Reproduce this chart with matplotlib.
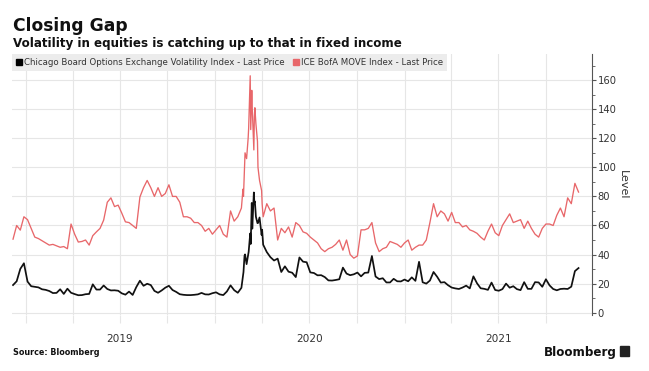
import matplotlib
matplotlib.use("Agg")
import matplotlib.pyplot as plt
import matplotlib.dates as mdates
from matplotlib.lines import Line2D
from matplotlib.patches import Rectangle
from matplotlib.ticker import MultipleLocator
import pandas as pd

# weekly readings (Fridays) starting 2018-12-07
week_start = "2018-12-07"

vix_weekly = [
    19.0, 21.6, 30.1, 34.0, 21.4, 18.2, 17.8, 17.4, 16.1, 15.7,
    14.9, 13.5, 13.6, 16.1, 12.9, 16.5, 13.7, 12.8, 12.0, 12.1,
    12.7, 12.9, 19.5, 15.9, 15.9, 18.7, 16.3, 15.3, 15.4, 15.1,
    13.3, 12.4, 14.5, 12.2, 17.6, 22.0, 18.5, 19.9, 19.0, 15.0,
    13.7, 15.3, 17.2, 18.5, 15.6, 14.3, 12.7, 12.3, 12.1, 12.1,
    12.3, 12.6, 13.6, 12.6, 12.5, 13.4, 14.0, 12.6, 12.1, 14.6,
    18.8, 15.5, 13.7, 17.1, 40.1, 41.9, 57.8, 66.0, 65.5, 46.8,
    41.7, 38.2, 35.9, 37.2, 28.0, 31.9, 28.2, 27.5, 24.5, 38.0,
    35.1, 34.7, 27.7, 27.3, 25.7, 25.8, 24.5, 22.2, 22.1, 22.5,
    23.0, 31.0, 26.9, 25.8, 26.4, 27.6, 25.0, 27.4, 27.6, 39.0,
    24.9, 23.1, 23.7, 20.8, 20.8, 23.3, 21.6, 21.5, 22.8, 21.6,
    24.3, 21.9, 35.0, 20.9, 20.0, 22.1, 28.0, 24.7, 20.7, 21.0,
    18.9, 17.3, 16.7, 16.3, 17.3, 18.6, 16.7, 25.0, 20.2, 16.8,
    16.4, 15.7, 20.7, 15.6, 15.1, 16.2, 20.0, 17.2, 18.2, 16.2,
    15.5, 21.0, 16.4, 16.4, 21.0, 20.8, 17.8, 23.0, 18.8, 16.3,
    15.4, 16.3, 16.5, 16.3, 17.9, 28.6, 30.7,
]

move_weekly = [
    50.6, 60.0, 56.8, 66.0, 64.0, 58.0, 52.0, 51.0, 49.5, 48.0,
    46.5, 47.0, 46.0, 45.0, 45.5, 44.0, 61.0, 54.0, 48.6, 49.0,
    50.0, 46.5, 53.0, 55.6, 58.0, 63.7, 76.0, 79.0, 73.0, 74.0,
    68.5, 62.5, 62.0, 60.0, 58.0, 79.6, 86.0, 91.0, 86.0, 80.0,
    86.0, 80.0, 82.0, 88.0, 80.0, 80.0, 76.0, 66.0, 66.0, 65.0,
    62.0, 62.0, 60.0, 56.0, 58.0, 54.0, 57.0, 60.0, 54.0, 52.0,
    70.0, 63.0, 66.0, 72.0, 110.0, 127.0, 140.0, 130.0, 91.0, 66.0,
    75.0, 70.0, 72.0, 50.0, 58.0, 55.0, 59.0, 52.0, 62.0, 60.0,
    55.6, 54.6, 52.0, 50.0, 48.0, 44.0, 42.0, 44.0, 45.0, 47.0,
    50.0, 43.0, 50.0, 40.0, 37.5, 39.0, 57.0, 57.0, 58.0, 62.0,
    48.0, 42.0, 44.0, 45.0, 49.0, 48.0, 47.0, 45.0, 48.0, 50.0,
    43.0, 45.0, 46.5, 46.5, 50.0, 62.0, 75.0, 66.0, 70.0, 68.0,
    63.0, 69.0, 62.0, 62.0, 59.0, 60.0, 57.0, 56.0, 54.6, 52.0,
    50.0, 56.0, 61.0, 55.0, 53.0, 60.0, 64.0, 68.0, 62.0, 63.0,
    64.0, 58.0, 63.0, 58.0, 54.0, 52.0, 58.0, 61.0, 61.0, 60.0,
    67.0, 72.0, 66.0, 79.0, 75.0, 89.0, 83.0,
]

# daily readings around the March 2020 spike
spike_dates = [
    "2020-02-24", "2020-02-25", "2020-02-27", "2020-02-28", "2020-03-02",
    "2020-03-05", "2020-03-09", "2020-03-10", "2020-03-12", "2020-03-13",
    "2020-03-16", "2020-03-17", "2020-03-18", "2020-03-20", "2020-03-23",
    "2020-03-24", "2020-03-27", "2020-03-31", "2020-04-01", "2020-04-03",
]
vix_spike = [25.0, 27.9, 39.2, 40.1, 33.4, 39.6, 54.5, 47.3, 75.5, 57.8,
             82.7, 75.9, 76.5, 66.0, 61.6, 61.7, 65.5, 53.5, 57.1, 46.8]
move_spike = [85.0, 80.0, 100.0, 110.0, 106.0, 120.0, 163.0, 126.0, 153.0, 140.0,
              112.0, 135.0, 141.0, 130.0, 118.0, 100.0, 91.0, 84.0, 75.0, 66.0]

labels = ["Chicago Board Options Exchange Volatility Index - Last Price",
          "ICE BofA MOVE Index - Last Price"]

weeks = pd.date_range(week_start, periods=len(vix_weekly), freq="7D")
sdates = pd.to_datetime(spike_dates)
vix = pd.Series(vix_spike, index=sdates).combine_first(pd.Series(vix_weekly, index=weeks))
move = pd.Series(move_spike, index=sdates).combine_first(pd.Series(move_weekly, index=weeks))

red = "#e8676a"
grid_c = "#e6e6e6"
txt_c = "#333333"

fig = plt.figure(figsize=(6.49, 3.71), dpi=100)
ax = fig.add_axes([12 / 649, 56 / 371, 580 / 649, 261 / 371])

ax.plot(move.index, move.values, color=red, lw=0.95, zorder=3)
ax.plot(vix.index, vix.values, color="#111111", lw=1.25, zorder=4)

ax.set_xlim(pd.Timestamp("2018-12-05"), pd.Timestamp("2021-12-29"))
ax.set_ylim(-1.6, 178)

for s in ["top", "left", "bottom"]:
    ax.spines[s].set_visible(False)
ax.spines["right"].set_color("#555555")
ax.spines["right"].set_linewidth(0.8)

ax.yaxis.tick_right()
ax.yaxis.set_label_position("right")
ax.set_yticks([0, 20, 40, 60, 80, 100, 120, 140, 160])
ax.yaxis.set_minor_locator(MultipleLocator(10))
ax.tick_params(axis="y", which="major", direction="out", length=3, width=0.8,
               color="#555555", labelsize=7.2, labelcolor=txt_c, pad=1)
ax.tick_params(axis="y", which="minor", direction="out", length=2, width=0.6,
               color="#555555")
ax.set_ylabel("Level", rotation=270, fontsize=8, color=txt_c, labelpad=8)

# quarterly gridlines, year names centred on mid-year
ax.xaxis.remove_overlapping_locs = False
ax.xaxis.set_major_locator(mdates.MonthLocator(bymonth=[1, 4, 7, 10]))
ax.xaxis.set_major_formatter(plt.NullFormatter())
ax.xaxis.set_minor_locator(mdates.MonthLocator(bymonth=[7]))
ax.xaxis.set_minor_formatter(mdates.DateFormatter("%Y"))
ax.tick_params(axis="x", which="major", length=6, color=grid_c, width=0.8)
ax.tick_params(axis="x", which="minor", length=0, pad=14, labelsize=7.6,
               labelcolor=txt_c)

ax.grid(True, which="major", color=grid_c, lw=0.8, zorder=0)
ax.set_axisbelow(True)

handles = [Line2D([], [], marker="s", color="black", linestyle="none", markersize=5),
           Line2D([], [], marker="s", color=red, linestyle="none", markersize=5)]
leg = ax.legend(handles, labels, loc="upper left", bbox_to_anchor=(0, 1), ncol=2,
                frameon=True, fancybox=False, facecolor="#ececec", edgecolor="none",
                framealpha=1, fontsize=6.2, handlelength=0.7, handletextpad=0.2,
                columnspacing=1.0, borderpad=0.45, borderaxespad=0)
for t in leg.get_texts():
    t.set_color(txt_c)

fig.text(13 / 649, 1 - 31 / 371, "Closing Gap", fontsize=12.3, fontweight="bold",
         color="#111111", va="baseline")
fig.text(13 / 649, 1 - 47 / 371, "Volatility in equities is catching up to that in fixed income",
         fontsize=8.6, fontweight="bold", color="#111111", va="baseline")
fig.text(13 / 649, 1 - 355 / 371, "Source: Bloomberg", fontsize=5.8, fontweight="bold",
         color="#111111", va="baseline")
fig.text(617 / 649, 1 - 356 / 371, "Bloomberg", fontsize=8.6, fontweight="bold",
         color="#111111", va="baseline", ha="right")
fig.patches.append(Rectangle((620 / 649, 1 - 356 / 371), 9 / 649, 10 / 371,
                             transform=fig.transFigure, color="#222222"))

fig.savefig("out.png", dpi=100)
